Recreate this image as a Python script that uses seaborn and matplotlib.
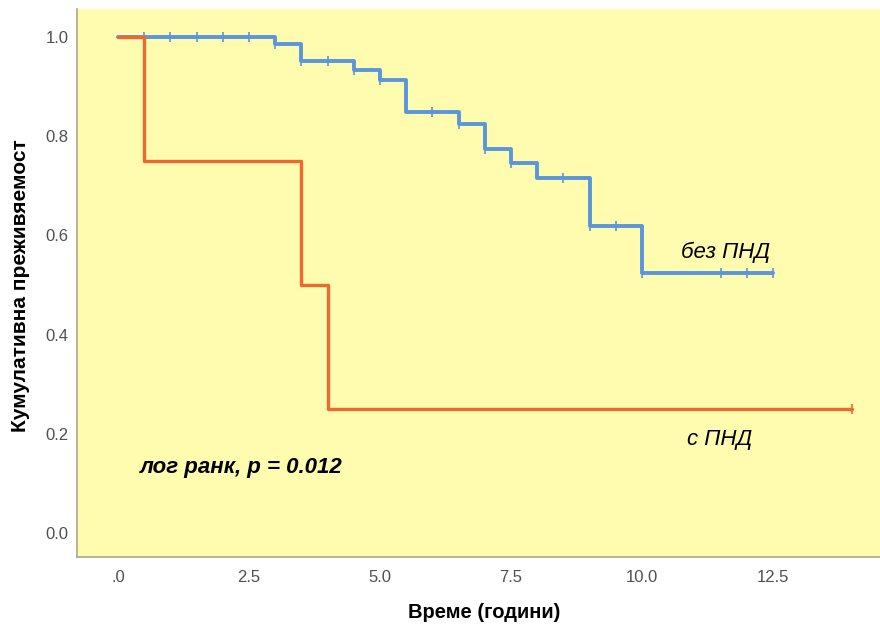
import numpy as np
import pandas as pd
import matplotlib
matplotlib.use("Agg")
import matplotlib.pyplot as plt
import seaborn as sns

# Kaplan-Meier steps
blue_times = [0.0, 3.0, 3.5, 4.5, 5.0, 5.5, 6.5, 7.0, 7.5, 8.0, 9.0, 10.0, 12.5]
blue_surv = [1.0, 0.985, 0.952, 0.933, 0.912, 0.848, 0.825, 0.775, 0.745, 0.715, 0.618, 0.524, 0.524]
blue_censored = [0.5, 1.0, 1.5, 2.0, 2.5, 3.0, 3.5, 4.0, 4.5, 5.0, 6.0, 6.5, 7.0, 7.5,
                 8.5, 9.0, 9.5, 10.0, 11.5, 12.0, 12.5]

orange_times = [0.0, 0.5, 3.5, 4.0, 14.0]
orange_surv = [1.0, 0.75, 0.5, 0.25, 0.25]
orange_censored = [14.0]

x_ticks = [0.0, 2.5, 5.0, 7.5, 10.0, 12.5]
x_tick_labels = [".0", "2.5", "5.0", "7.5", "10.0", "12.5"]
y_ticks = [0.0, 0.2, 0.4, 0.6, 0.8, 1.0]
y_tick_labels = ["0.0", "0.2", "0.4", "0.6", "0.8", "1.0"]

BLUE = "#5a96dc"
ORANGE = "#f0682e"
BG = "#fffcb0"


def surv_at(times, surv, t):
    # value of a step function (post) at time t
    idx = np.searchsorted(times, t, side="right") - 1
    return surv[idx]


sns.set_style("white")
plt.rcParams["font.family"] = ["Liberation Sans", "DejaVu Sans"]
plt.rcParams["text.color"] = "black"
plt.rcParams["axes.labelcolor"] = "black"

fig = plt.figure(figsize=(8.8, 6.24), dpi=100)
ax = fig.add_axes([0.0875, 0.107, 0.9125, 0.8786])
ax.set_facecolor(BG)

df_blue = pd.DataFrame({"t": blue_times, "s": blue_surv})
df_orange = pd.DataFrame({"t": orange_times, "s": orange_surv})

sns.lineplot(data=df_blue, x="t", y="s", ax=ax, color=BLUE, lw=2.8,
             drawstyle="steps-post", estimator=None, sort=False)
cens_b = pd.DataFrame({"t": blue_censored,
                       "s": [surv_at(blue_times, blue_surv, t) for t in blue_censored]})
sns.scatterplot(data=cens_b, x="t", y="s", ax=ax, marker="|", s=60, color=BLUE,
                linewidth=1.2, zorder=3)

sns.lineplot(data=df_orange, x="t", y="s", ax=ax, color=ORANGE, lw=2.4,
             drawstyle="steps-post", estimator=None, sort=False, zorder=4)
cens_o = pd.DataFrame({"t": orange_censored,
                       "s": [surv_at(orange_times, orange_surv, t) for t in orange_censored]})
sns.scatterplot(data=cens_o, x="t", y="s", ax=ax, marker="|", s=60, color=ORANGE,
                linewidth=1.2, zorder=5)

ax.set_xlim(-0.78, 14.54)
ax.set_ylim(-0.048, 1.056)
ax.set_xticks(x_ticks)
ax.set_xticklabels(x_tick_labels)
ax.set_yticks(y_ticks)
ax.set_yticklabels(y_tick_labels)
ax.tick_params(axis="both", length=0, labelsize=12, labelcolor="#505050")
ax.tick_params(axis="x", pad=9)
ax.tick_params(axis="y", pad=6)

for side in ["top", "right"]:
    ax.spines[side].set_visible(False)
for side in ["left", "bottom"]:
    ax.spines[side].set_color("#a8a890")
    ax.spines[side].set_linewidth(1.2)

ax.set_xlabel("Време (години)", fontsize=14.5, fontweight="bold")
ax.set_ylabel("Кумулативна преживяемост", fontsize=15, fontweight="bold")
ax.yaxis.set_label_coords(-0.059, 0.496)
ax.xaxis.set_label_coords(0.507, -0.083)

ax.text(10.75, 0.566, "без ПНД", fontsize=16, style="italic", va="center")
ax.text(10.85, 0.19, "с ПНД", fontsize=16, style="italic", va="center")
ax.text(0.42, 0.133, "лог ранк, p = 0.012", fontsize=16, style="italic",
        fontweight="bold", va="center")

plt.savefig("out.png", dpi=100, facecolor="white")
